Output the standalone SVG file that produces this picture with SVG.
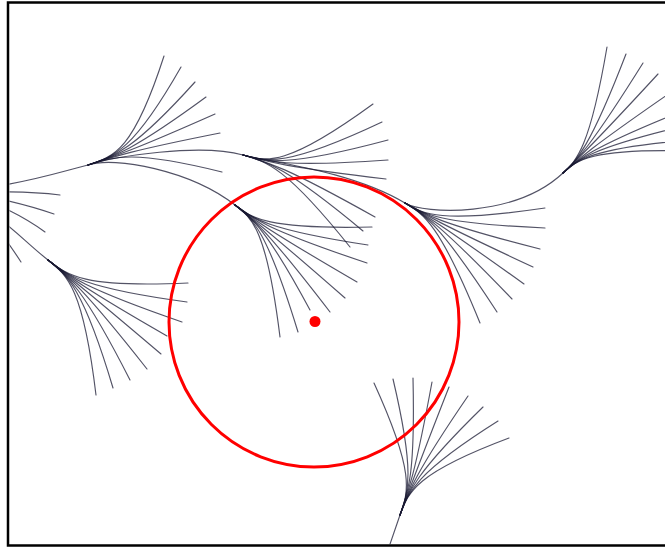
<svg xmlns="http://www.w3.org/2000/svg" width="665" height="550" viewBox="0 0 665 550">
<style>
.f path{fill:none;stroke:#1a1a33;stroke-opacity:0.75;stroke-width:1.15;stroke-linecap:round}
.red{fill:none;stroke:#ff0000;stroke-width:3}
</style>
<defs>
<clipPath id="frame"><rect x="9.5" y="3.8" width="700" height="540.5"/></clipPath>
</defs>
<rect width="665" height="550" fill="#ffffff"/>
<g clip-path="url(#frame)">
<g id="fanE" class="f">
<path d="M-10,187 C30,182 60,172 88,165"/>
<path d="M-10,192 Q30,191 60,195"/>
<path d="M-10,197 Q25,204 54,214"/>
<path d="M-10,202 Q20,214 45,232"/>
<path d="M-10,212 C10,225 30,246 48,260"/>
<path d="M-5,225 Q10,245 21,262"/>
</g>
<g id="fanA" class="f">
<path d="M88,165 C114.6,156.3 133.6,150.1 164,56"/>
<path d="M88,165 C114.6,156.3 133.6,150.1 181,67"/>
<path d="M88,165 C114.6,156.3 133.6,150.1 195,82"/>
<path d="M88,165 C114.6,156.3 133.6,150.1 206,97"/>
<path d="M88,165 C114.6,156.3 133.6,150.1 215,114"/>
<path d="M88,165 C114.6,156.3 133.6,150.1 220,133"/>
<path d="M88,165 C114.6,156.3 133.6,150.1 222,172"/>
<path d="M88,165 C114.6,156.3 200,143 243,155"/>
<path d="M88,165 C114.6,156.3 190,170 235,205"/>
</g>
<g id="fanB" class="f">
<path d="M243,155 C267,161.75 286.2,167.2 373,104"/>
<path d="M243,155 C267,161.75 286.2,167.2 382,122"/>
<path d="M243,155 C267,161.75 286.2,167.2 388,140"/>
<path d="M243,155 C267,161.75 286.2,167.2 388,160"/>
<path d="M243,155 C267,161.75 286.2,167.2 386,179"/>
<path d="M243,155 C267,161.75 286.2,167.2 375,217"/>
<path d="M243,155 C267,161.75 286.2,167.2 363,231"/>
<path d="M243,155 C267,161.75 286.2,167.2 350,247"/>
<path d="M243,155 C267,161.75 350,170 405,203"/>
</g>
<g id="fanC" class="f">
<path d="M235,205 C252.4,218.4 266.6,229.4 372,227"/>
<path d="M235,205 C252.4,218.4 266.6,229.4 368,245"/>
<path d="M235,205 C252.4,218.4 266.6,229.4 367,263"/>
<path d="M235,205 C252.4,218.4 266.6,229.4 357,282"/>
<path d="M235,205 C252.4,218.4 266.6,229.4 345,298"/>
<path d="M235,205 C252.4,218.4 266.6,229.4 330,312"/>
<path d="M235,205 C252.4,218.4 266.6,229.4 310,310"/>
<path d="M235,205 C252.4,218.4 266.6,229.4 298,332"/>
<path d="M235,205 C252.4,218.4 266.6,229.4 280,337"/>
</g>
<g id="fanD" class="f">
<path d="M48,260 C67.5,275.5 83.1,287.9 188,283"/>
<path d="M48,260 C67.5,275.5 83.1,287.9 187,302"/>
<path d="M48,260 C67.5,275.5 83.1,287.9 182,322"/>
<path d="M48,260 C67.5,275.5 83.1,287.9 167,336"/>
<path d="M48,260 C67.5,275.5 83.1,287.9 161,354"/>
<path d="M48,260 C67.5,275.5 83.1,287.9 147,369"/>
<path d="M48,260 C67.5,275.5 83.1,287.9 130,380"/>
<path d="M48,260 C67.5,275.5 83.1,287.9 113,388"/>
<path d="M48,260 C67.5,275.5 83.1,287.9 96,395"/>
</g>
<g id="fanF" class="f">
<path d="M405,203 C423.9,214.2 439.4,223.4 545,208"/>
<path d="M405,203 C423.9,214.2 439.4,223.4 545,228"/>
<path d="M405,203 C423.9,214.2 439.4,223.4 540,249"/>
<path d="M405,203 C423.9,214.2 439.4,223.4 533,267"/>
<path d="M405,203 C423.9,214.2 439.4,223.4 524,284"/>
<path d="M405,203 C423.9,214.2 439.4,223.4 512,299"/>
<path d="M405,203 C423.9,214.2 439.4,223.4 497,312"/>
<path d="M405,203 C423.9,214.2 439.4,223.4 480,323"/>
<path d="M405,203 C423.9,214.2 515,218 563,173"/>
</g>
<g id="fanG" class="f">
<path d="M563,173 C576.6,160.4 589.7,148.2 607,47"/>
<path d="M563,173 C576.6,160.4 589.7,148.2 626,54"/>
<path d="M563,173 C576.6,160.4 589.7,148.2 643,63"/>
<path d="M563,173 C576.6,160.4 589.7,148.2 658,74"/>
<path d="M563,173 C576.6,160.4 589.7,148.2 680,86"/>
<path d="M563,173 C576.6,160.4 589.7,148.2 685,110"/>
<path d="M563,173 C576.6,160.4 589.7,148.2 688,125"/>
<path d="M563,173 C576.6,160.4 589.7,148.2 690,140"/>
<path d="M563,173 C576.6,160.4 589.7,148.2 690,151"/>
</g>
<g id="fanH" class="f">
<path d="M388,550 L400,515"/>
<path d="M400,515 C408.5,491.75 415.2,473.2 374,383"/>
<path d="M400,515 C408.5,491.75 415.2,473.2 393,379"/>
<path d="M400,515 C408.5,491.75 415.2,473.2 413,378"/>
<path d="M400,515 C408.5,491.75 415.2,473.2 432,382"/>
<path d="M400,515 C408.5,491.75 415.2,473.2 449,387"/>
<path d="M400,515 C408.5,491.75 415.2,473.2 468,396"/>
<path d="M400,515 C408.5,491.75 415.2,473.2 483,407"/>
<path d="M400,515 C408.5,491.75 415.2,473.2 498,421"/>
<path d="M400,515 C408.5,491.75 415.2,473.2 509,438"/>
</g>
</g>
<g id="target">
<circle class="red" cx="314" cy="322" r="145"/>
<circle cx="315" cy="321.5" r="5.5" fill="#ff0000"/>
</g>
<rect id="border" x="8" y="2.5" width="720" height="543" fill="none" stroke="#000000" stroke-width="2.5"/>
</svg>
